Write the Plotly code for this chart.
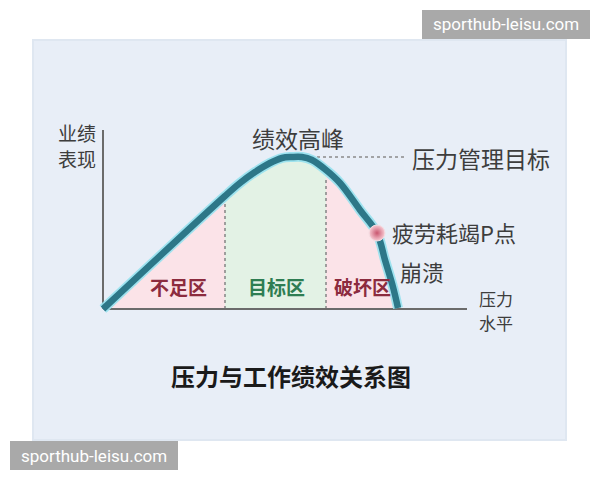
import plotly.graph_objects as go

# 压力水平 (x) / 业绩表现 (y)，按图中读数估计
pressure = [0, 12.2, 13.7, 15.2, 16.7, 17.9, 18.9, 19.9, 20.9, 22.3, 23.7, 25.7, 27.4, 28.2, 29.0, 29.5]
performance = [0, 11.3, 12.6, 13.7, 14.6, 15.1, 15.2, 15.2, 14.9, 13.9, 12.6, 9.9, 7.6, 4.9, 2.2, 0.1]

zone_edges = [0, 12.2, 22.3, 29.5]
zone_names = ["不足区", "目标区", "破坏区"]
zone_centers = [7.5, 17.3, 25.9]
zone_fill = ["#fbe3e8", "#e3f2e5", "#fbe3e8"]
zone_text_color = ["#8c2b3e", "#2e7d52", "#8c2b3e"]
zone_label_y = 2.3

peak = (19.2, 15.2)
p_point = (27.4, 7.6)
axis_x_end = 36.4
axis_y_end = 17.9

FONT = "Noto Sans CJK SC"

fig = go.Figure()

# 分区填充
for i, name in enumerate(zone_names):
    lo, hi = zone_edges[i], zone_edges[i + 1]
    xs = [x for x in pressure if lo <= x <= hi]
    ys = [y for x, y in zip(pressure, performance) if lo <= x <= hi]
    fig.add_trace(go.Scatter(x=xs, y=ys, mode="lines", fill="tozeroy",
                             fillcolor=zone_fill[i], line=dict(width=0, shape="spline"),
                             hoverinfo="skip", showlegend=False))

# 分区虚线
for edge in zone_edges[1:3]:
    top = [y for x, y in zip(pressure, performance) if x == edge][0] - 0.7
    fig.add_trace(go.Scatter(x=[edge, edge], y=[0, top], mode="lines",
                             line=dict(color="#8a8a8a", width=1.6, dash="dot"),
                             hoverinfo="skip", showlegend=False))

# 压力管理目标 水平虚线
fig.add_trace(go.Scatter(x=[peak[0] + 1.0, 30.3], y=[peak[1], peak[1]], mode="lines",
                         line=dict(color="#8a8a8a", width=1.6, dash="dot"),
                         hoverinfo="skip", showlegend=False))

# 坐标轴
fig.add_trace(go.Scatter(x=[0, axis_x_end], y=[0, 0], mode="lines",
                         line=dict(color="#6b6b6b", width=2), hoverinfo="skip", showlegend=False))
fig.add_trace(go.Scatter(x=[0, 0], y=[0, axis_y_end], mode="lines",
                         line=dict(color="#6b6b6b", width=2), hoverinfo="skip", showlegend=False))

# 曲线（外发光 + 主线）
fig.add_trace(go.Scatter(x=pressure, y=performance, mode="lines",
                         line=dict(color="rgba(150,225,238,0.9)", width=10, shape="spline"),
                         hoverinfo="skip", showlegend=False))
fig.add_trace(go.Scatter(x=pressure, y=performance, mode="lines",
                         line=dict(color="#2d7788", width=6.5, shape="spline"),
                         hoverinfo="skip", showlegend=False))

# 疲劳耗竭P点
fig.add_trace(go.Scatter(x=[p_point[0]], y=[p_point[1]], mode="markers",
                         marker=dict(size=16, color="#f8ccd5",
                                     gradient=dict(type="radial", color="#c9566f"),
                                     line=dict(color="#f3dde2", width=1)),
                         hoverinfo="skip", showlegend=False))

labels = [
    ("业绩", -2.6, 17.7, "center", 19),
    ("表现", -2.6, 15.1, "center", 19),
    ("绩效高峰", peak[0] + 0.3, 17.1, "center", 23),
    ("压力管理目标", 30.7, 15.1, "left", 23),
    ("疲劳耗竭P点", 28.7, 7.7, "left", 22),
    ("崩溃", 29.5, 3.8, "left", 22),
    ("压力", 37.4, 1.1, "left", 17),
    ("水平", 37.4, -1.3, "left", 17),
]
for text, x, y, anchor, size in labels:
    fig.add_annotation(x=x, y=y, text=text, showarrow=False, xanchor=anchor, yanchor="middle",
                       font=dict(family=FONT, size=size, color="#3d3d3d"))

for i, name in enumerate(zone_names):
    fig.add_annotation(x=zone_centers[i], y=zone_label_y, text=f"<b>{name}</b>", showarrow=False,
                       xanchor="center", yanchor="middle",
                       font=dict(family=FONT, size=19, color=zone_text_color[i]))

# 背景面板与水印
shapes = [
    dict(type="rect", xref="paper", yref="paper", x0=33 / 600, x1=566 / 600,
         y0=1 - 440 / 480, y1=1 - 40 / 480,
         fillcolor="#e8eef7", line=dict(color="#dfe7f1", width=2), layer="below"),
    dict(type="rect", xref="paper", yref="paper", x0=422 / 600, x1=590 / 600,
         y0=1 - 39 / 480, y1=1 - 10 / 480, fillcolor="#a9a9a9", line=dict(width=0), layer="above"),
    dict(type="rect", xref="paper", yref="paper", x0=10 / 600, x1=178 / 600,
         y0=1 - 470 / 480, y1=1 - 441 / 480, fillcolor="#a9a9a9", line=dict(width=0), layer="above"),
]
for cx, cy in [(506, 24.5), (94, 455.5)]:
    fig.add_annotation(xref="paper", yref="paper", x=cx / 600, y=1 - cy / 480,
                       xanchor="center", yanchor="middle",
                       text="sporthub-leisu.com", showarrow=False,
                       font=dict(family="Roboto", size=17, color="white"))

fig.update_layout(
    width=600, height=480, autosize=False,
    margin=dict(l=0, r=0, t=0, b=0),
    paper_bgcolor="white", plot_bgcolor="rgba(0,0,0,0)",
    shapes=shapes,
    title=dict(text="<b>压力与工作绩效关系图</b>", x=291 / 600, xanchor="center",
               y=1 - 378 / 480, yanchor="middle",
               font=dict(family=FONT, size=24, color="#1a1a1a")),
    xaxis=dict(range=[-10.3, 49.7], visible=False, fixedrange=True),
    yaxis=dict(range=[-17.1, 30.9], visible=False, fixedrange=True),
)

fig.write_html("out.html", config={"displayModeBar": False},
               post_script="document.body.style.margin = '0px';")
